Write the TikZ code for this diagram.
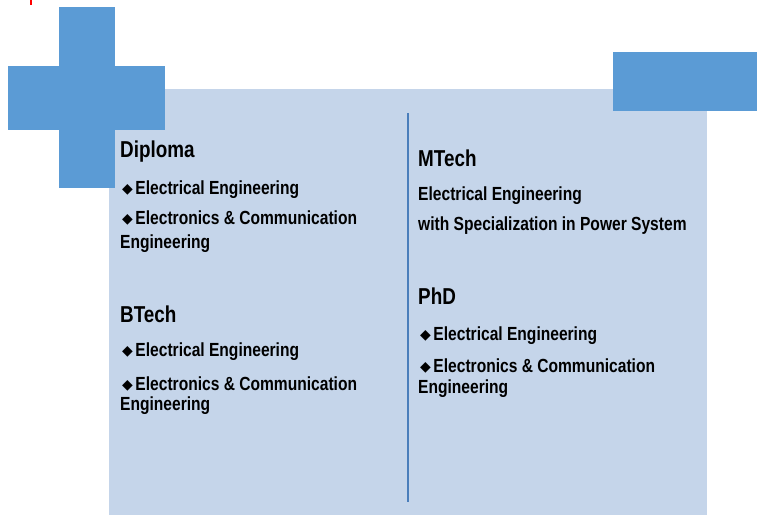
\documentclass[tikz,border=0pt]{standalone}
\usepackage{fontspec}
\newfontfamily\nf[FakeStretch=0.82]{Liberation Sans}
\newfontfamily\djv{DejaVu Sans}
\definecolor{bgc}{HTML}{C5D5EA}
\definecolor{bluec}{HTML}{5B9BD5}
\definecolor{linec}{HTML}{4A7EBB}
\newcommand{\dia}{\raisebox{1pt}{\djv\fontsize{14}{14}\selectfont ◆}\hspace{2.5pt}}
\begin{document}
\begin{tikzpicture}[x=1pt,y=-1pt,
  head/.style={anchor=base west, inner sep=0, font=\nf\bfseries\fontsize{23}{27}\selectfont},
  body/.style={anchor=base west, inner sep=0, font=\nf\bfseries\fontsize{19}{23}\selectfont}]
\useasboundingbox (0,0) rectangle (757,515);
\fill[bgc] (109,89) rectangle (707,515);
\fill[bluec] (59,7) rectangle (115,188);
\fill[bluec] (8,66) rectangle (165,130);
\fill[bluec] (613,52) rectangle (757,111);
\draw[red, line width=1.5] (31,0) -- (31,5);
\coordinate (lt) at (408,113);
\coordinate (lb) at (408,502);
\draw[linec, line width=2.2] (lt) -- (lb);
% left column
\node[head] (dip) at (120,157) {Diploma};
\node[body] (d1) at (122,194) {\dia Electrical Engineering};
\node[body] (d2) at (122,224) {\dia Electronics \& Communication};
\node[body] (d3) at (120,248) {Engineering};
\node[head] (bt) at (120,322) {BTech};
\node[body] (b1) at (122,356) {\dia Electrical Engineering};
\node[body] (b2) at (122,390) {\dia Electronics \& Communication};
\node[body] (b3) at (120,410) {Engineering};
% right column
\node[head] (mt) at (418,166) {MTech};
\node[body] (m1) at (418,200) {Electrical Engineering};
\node[body] (m2) at (418,230) {with Specialization in Power System};
\node[head] (phd) at (418,304) {PhD};
\node[body] (p1) at (420,340) {\dia Electrical Engineering};
\node[body] (p2) at (420,372) {\dia Electronics \& Communication};
\node[body] (p3) at (418,393) {Engineering};
\end{tikzpicture}
\end{document}
